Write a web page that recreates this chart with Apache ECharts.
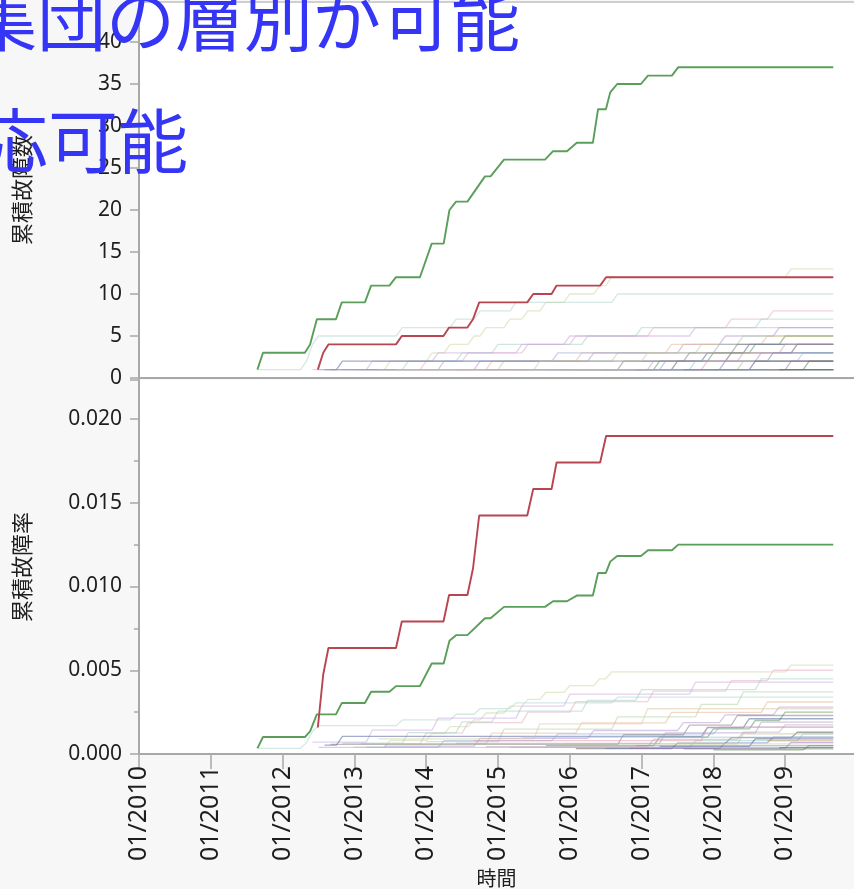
<!DOCTYPE html>
<html>
<head>
<meta charset="utf-8">
<script src="https://cdn.jsdelivr.net/npm/echarts@6/dist/echarts.min.js"></script>
<style>
  html, body { margin: 0; padding: 0; background: #f7f7f7; }
  #chart { width: 854px; height: 889px; }
</style>
</head>
<body>
<div id="chart"></div>
<script>
// ---- data -------------------------------------------------------------
const yearTicks = [2010, 2011, 2012, 2013, 2014, 2015, 2016, 2017, 2018, 2019];
const countTicks = [0, 5, 10, 15, 20, 25, 30, 35, 40];
const rateTicks = [0, 0.005, 0.010, 0.015, 0.020];
const lastObserved = '2019-09-02';

// Highlighted groups: cumulative failure count at each vertex of the path
const greenGroupPath = [
  ['2011-08-25', 1], ['2011-09-23', 3], ['2012-04-23', 3], ['2012-05-19', 4],
  ['2012-06-23', 7], ['2012-09-29', 7], ['2012-10-28', 9], ['2013-02-24', 9],
  ['2013-03-25', 11], ['2013-06-27', 11], ['2013-07-30', 12], ['2013-11-30', 12],
  ['2014-01-29', 16], ['2014-03-29', 16], ['2014-04-28', 20], ['2014-05-31', 21],
  ['2014-07-28', 21], ['2014-10-26', 24], ['2014-11-24', 24], ['2015-02-01', 26],
  ['2015-08-27', 26], ['2015-10-07', 27], ['2015-12-17', 27], ['2016-02-06', 28],
  ['2016-04-27', 28], ['2016-05-23', 32], ['2016-07-02', 32], ['2016-07-24', 34],
  ['2016-08-29', 35], ['2016-12-28', 35], ['2017-02-03', 36], ['2017-06-03', 36],
  ['2017-07-05', 37], ['2019-09-02', 37]
];
const redGroupPath = [
  ['2012-06-28', 1], ['2012-07-25', 3], ['2012-08-21', 4], ['2013-07-30', 4],
  ['2013-08-29', 5], ['2014-03-28', 5], ['2014-04-26', 6], ['2014-07-28', 6],
  ['2014-08-26', 7], ['2014-09-27', 9], ['2015-05-28', 9], ['2015-06-28', 10],
  ['2015-09-30', 10], ['2015-10-25', 11], ['2016-06-03', 11], ['2016-07-03', 12],
  ['2019-09-02', 12]
];
const greenGroupUnits = 2960;
const redGroupUnits = 632;

// Remaining groups: units in service and the month of each failure
const otherGroupUnits = [
  2450, 2950, 1600, 1560, 1400, 2140, 1350, 2000, 1610, 1900,
  2500, 1740, 3080, 1110, 1580, 2500, 3000, 1250, 1670, 2220,
  2860, 4000, 2500, 1670, 1000, 3300, 1250, 2000, 2600, 2300
];
const otherGroupFailures = [
  ['2013-01', '2013-07', '2014-02', '2014-05', '2014-09', '2014-11', '2015-03', '2015-06', '2015-09', '2016-01', '2016-06', '2016-08', '2019-02'],
  ['2011-09', '2012-05', '2012-06', '2012-06', '2012-07', '2013-09', '2014-06', '2014-10', '2015-04', '2016-09'],
  ['2013-02', '2014-01', '2014-08', '2015-06', '2016-02', '2017-03', '2018-04', '2018-11'],
  ['2012-11', '2013-10', '2014-07', '2015-01', '2016-04', '2017-01', '2018-09'],
  ['2012-06', '2013-04', '2014-03', '2015-05', '2016-01', '2017-10'],
  ['2013-06', '2014-10', '2016-05', '2017-08', '2018-03', '2018-12'],
  ['2014-01', '2015-02', '2016-09', '2017-11', '2018-06'],
  ['2015-09', '2017-04', '2018-01', '2018-08', '2019-01'],
  ['2013-09', '2014-12', '2016-03', '2017-06', '2018-10'],
  ['2012-08', '2012-11', '2017-12', '2018-07'],
  ['2013-03', '2014-04', '2015-11', '2018-02'],
  ['2012-09', '2016-10', '2017-09', '2018-05'],
  ['2016-02', '2017-07', '2018-04', '2019-03'],
  ['2013-05', '2015-08', '2017-02'],
  ['2014-06', '2017-05', '2018-09'],
  ['2015-03', '2017-10', '2019-04'],
  ['2016-07', '2018-03', '2018-11'],
  ['2014-09', '2017-12'],
  ['2015-12', '2018-06'],
  ['2017-04', '2018-08'],
  ['2016-11', '2019-02'],
  ['2018-01', '2019-05'],
  ['2012-07'],
  ['2013-08'],
  ['2015-05'],
  ['2017-08'],
  ['2018-10'],
  ['2016-12'],
  ['2018-12'],
  ['2014-11', '2017-03', '2018-06', '2019-01']
];

// ---- styling ----------------------------------------------------------
const otherGroupColors = [
  '#c9d69a', '#a9d3c9', '#e2a9bd', '#9fcfc4', '#c7a6df', '#b58fd0', '#a9cf9f', '#4f8f5a',
  '#e6b48f', '#4a5a9a', '#8fa8d6', '#7a7a7a', '#505050', '#d8c8a0', '#a88fd0', '#8fc8c0',
  '#6a78b8', '#e09aa8', '#b8c080', '#38488a', '#9a6ab8', '#3f7f3f', '#b0a0e0', '#c0d0a0',
  '#a0c8e0', '#707070', '#d0a070', '#8090c0', '#2f6f2f', '#c0a0b0'
];
const GREEN = '#5a9e5a';
const RED = '#b84550';
const AXIS_GRAY = '#a8a8a8';
const TEXT = '#1e1e1e';
const NUM_FONT = '"Noto Sans", "DejaVu Sans", sans-serif';
const CJK_FONT = '"Noto Sans CJK JP", "Noto Sans", sans-serif';

// ---- helpers ----------------------------------------------------------
function toYear(s) {
  const p = s.split('-').map(Number);
  return p[0] + (p[1] - 1) / 12 + ((p[2] || 1) - 1) / 365;
}
// vertex path of [date, count] -> [year, value]
function pathPoints(path, divisor) {
  return path.map(([d, c]) => [toYear(d), c / divisor]);
}
// failure months -> cumulative path with a one-month ramp per failure
function failurePath(months) {
  const pts = [];
  let count = 0;
  months.forEach((m) => {
    const t = toYear(m);
    count += 1;
    if (pts.length === 0) { pts.push([t, count]); return; }
    const last = pts[pts.length - 1];
    if (Math.abs(last[0] - t) < 1e-9) { last[1] = count; return; }
    const rampStart = Math.max(last[0], t - 1 / 12);
    if (rampStart > last[0]) pts.push([rampStart, count - 1]);
    pts.push([t, count]);
  });
  pts.push([toYear(lastObserved), count]);
  return pts;
}

const series = [];
function addLine(gridIdx, data, color, width, opacity, z) {
  series.push({
    type: 'line', xAxisIndex: gridIdx, yAxisIndex: gridIdx, data,
    showSymbol: false, symbol: 'none', smooth: false, silent: true,
    lineStyle: { color, width, opacity }, z
  });
}
otherGroupFailures.forEach((months, i) => {
  const path = failurePath(months);
  const color = otherGroupColors[i % otherGroupColors.length];
  addLine(0, path, color, 1.3, 0.5, 2);
  addLine(1, path.map(([t, c]) => [t, c / otherGroupUnits[i]]), color, 1.3, 0.5, 2);
});
addLine(0, pathPoints(greenGroupPath, 1), GREEN, 1.9, 1, 4);
addLine(1, pathPoints(greenGroupPath, greenGroupUnits), GREEN, 1.9, 1, 4);
addLine(0, pathPoints(redGroupPath, 1), RED, 1.9, 1, 5);
addLine(1, pathPoints(redGroupPath, redGroupUnits), RED, 1.9, 1, 5);

// ---- axes -------------------------------------------------------------
const X_MIN = yearTicks[0];
const X_MAX = 2019.958;
const yearLabel = (v) => (yearTicks.includes(Math.round(v * 1000) / 1000) ? '01/' + v : '');

const chart = echarts.init(document.getElementById('chart'), null, { renderer: 'canvas' });
chart.setOption({
  animation: false,
  backgroundColor: '#f7f7f7',
  grid: [
    { left: 139, right: 0, top: 2, height: 376, show: true, backgroundColor: '#ffffff', borderWidth: 0 },
    { left: 139, right: 0, top: 380, height: 374, show: true, backgroundColor: '#ffffff', borderWidth: 0 }
  ],
  xAxis: [
    {
      type: 'value', gridIndex: 0, min: X_MIN, max: X_MAX, interval: 1, position: 'bottom',
      axisLine: { show: true, onZero: false, lineStyle: { color: AXIS_GRAY, width: 2 } },
      axisTick: { show: false }, axisLabel: { show: false }, splitLine: { show: false }
    },
    {
      type: 'value', gridIndex: 1, min: X_MIN, max: X_MAX, interval: 1, position: 'bottom',
      name: '時間', nameLocation: 'middle', nameGap: 114,
      nameTextStyle: { color: TEXT, fontSize: 20, fontFamily: CJK_FONT },
      axisLine: { show: true, onZero: false, lineStyle: { color: AXIS_GRAY, width: 2 } },
      axisTick: { show: true, length: 15, lineStyle: { color: AXIS_GRAY, width: 1.5 } },
      axisLabel: {
        rotate: 90, margin: 12, color: TEXT, fontSize: 25, fontFamily: NUM_FONT,
        formatter: yearLabel, showMaxLabel: false
      },
      splitLine: { show: false }
    },
    {
      type: 'value', gridIndex: 0, min: X_MIN, max: X_MAX, position: 'top',
      axisLine: { show: true, onZero: false, lineStyle: { color: '#cfcfcf', width: 2 } },
      axisTick: { show: false }, axisLabel: { show: false }, splitLine: { show: false }
    }
  ],
  yAxis: [
    {
      type: 'value', gridIndex: 0, min: countTicks[0], max: 44.76, interval: 5,
      name: '累積故障数', nameLocation: 'middle', nameRotate: 90, nameGap: 106,
      nameTextStyle: { color: TEXT, fontSize: 22, fontFamily: CJK_FONT },
      axisLine: { show: true, lineStyle: { color: AXIS_GRAY, width: 2 } },
      axisTick: { show: true, length: 9, lineStyle: { color: AXIS_GRAY, width: 1.5 } },
      axisLabel: {
        margin: 17, color: TEXT, fontSize: 21, fontFamily: NUM_FONT,
        formatter: (v) => (countTicks.includes(v) ? String(v) : ''), showMaxLabel: false
      },
      splitLine: { show: false }
    },
    {
      type: 'value', gridIndex: 1, min: rateTicks[0], max: 0.02233, interval: 0.005,
      name: '累積故障率', nameLocation: 'middle', nameRotate: 90, nameGap: 106,
      nameTextStyle: { color: TEXT, fontSize: 22, fontFamily: CJK_FONT },
      axisLine: { show: true, lineStyle: { color: AXIS_GRAY, width: 2 } },
      axisTick: { show: true, length: 9, lineStyle: { color: AXIS_GRAY, width: 1.5 } },
      minorTick: { show: true, splitNumber: 2, length: 5, lineStyle: { color: AXIS_GRAY, width: 1.5 } },
      axisLabel: {
        margin: 17, color: TEXT, fontSize: 21, fontFamily: NUM_FONT,
        formatter: (v) => {
          const hit = rateTicks.find((r) => Math.abs(r - v) < 1e-9);
          return hit === undefined ? '' : hit.toFixed(3);
        },
        showMaxLabel: false
      },
      splitLine: { show: false }
    }
  ],
  graphic: [
    {
      type: 'text', left: -32, top: -15, z: 100,
      style: { text: '集団の層別が可能', fontSize: 69, fontFamily: CJK_FONT, fill: '#3535f6' }
    },
    {
      type: 'text', left: -22, top: 106, z: 100,
      style: { text: '応可能', fontSize: 70, fontFamily: CJK_FONT, fill: '#3535f6' }
    }
  ],
  series
});
</script>
</body>
</html>
